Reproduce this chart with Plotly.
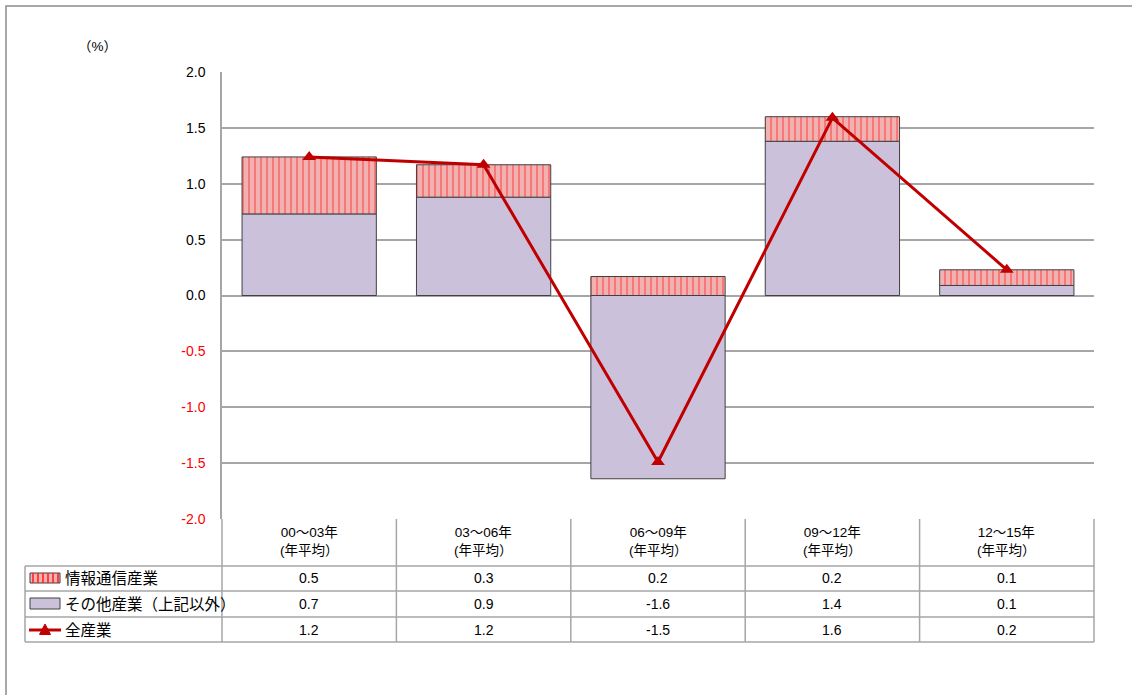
import plotly.graph_objects as go

# data
periods = ["00～03年", "03～06年", "06～09年", "09～12年", "12～15年"]
info_comm = [0.51, 0.29, 0.17, 0.22, 0.14]      # 情報通信産業
other_ind = [0.73, 0.88, -1.64, 1.38, 0.09]     # その他産業（上記以外）
all_ind = [1.24, 1.17, -1.49, 1.59, 0.23]       # 全産業
y_ticks = [-2.0, -1.5, -1.0, -0.5, 0.0, 0.5, 1.0, 1.5, 2.0]

row_names = ["情報通信産業", "その他産業（上記以外）", "全産業"]

FONT = "Liberation Sans, Noto Sans CJK JP"
GRID = "#a6a6a6"
W_FIG, H_FIG = 1132, 695
L, T, W, H = 222, 72, 872, 447


def px(x):
    return (x - L) / W


def py(y):
    return (T + H - y) / H


fig = go.Figure()

fig.add_trace(go.Bar(
    x=list(range(len(periods))), y=other_ind, name=row_names[1],
    marker=dict(color="#ccc1da", line=dict(color="#404040", width=1)),
    width=0.77,
))
fig.add_trace(go.Bar(
    x=list(range(len(periods))), y=info_comm, name=row_names[0],
    marker=dict(
        color="#f2b1b1",
        line=dict(color="#404040", width=1),
        pattern=dict(shape="|", fgcolor="#ff1a1a", bgcolor="#f2b1b1", size=6, solidity=0.25),
    ),
    width=0.77,
))
fig.add_trace(go.Scatter(
    x=list(range(len(periods))), y=all_ind, name=row_names[2],
    mode="lines+markers",
    line=dict(color="#c00000", width=3),
    marker=dict(symbol="triangle-up", size=12, color="#c00000"),
))

tick_text = []
for v in y_ticks:
    col = "#ff0000" if v < 0 else "#000000"
    tick_text.append(f"<span style='color:{col}'>{v:.1f}</span>")

shapes = []
line_style = dict(color=GRID, width=1.5)

# table grid
for yy in [566, 591, 617, 642]:
    shapes.append(dict(type="line", xref="paper", yref="paper",
                       x0=px(25), x1=px(1094), y0=py(yy), y1=py(yy), line=line_style))
shapes.append(dict(type="line", xref="paper", yref="paper",
                   x0=px(25), x1=px(25), y0=py(566), y1=py(642), line=line_style))
for i in range(len(periods) + 1):
    xx = L + i * W / len(periods)
    shapes.append(dict(type="line", xref="paper", yref="paper",
                       x0=px(xx), x1=px(xx), y0=py(519), y1=py(642), line=line_style))

# outer chart frame
shapes.append(dict(type="rect", xref="paper", yref="paper",
                   x0=px(6), x1=px(1140), y0=py(6), y1=py(705),
                   line=dict(color="#8c8c8c", width=1.5)))

# legend keys in the table
shapes.append(dict(type="rect", xref="paper", yref="paper",
                   x0=px(30), x1=px(60), y0=py(583), y1=py(573),
                   fillcolor="#f2b1b1", line=dict(color="#404040", width=1)))
for k in range(6):
    sx = 33 + k * 5
    shapes.append(dict(type="line", xref="paper", yref="paper",
                       x0=px(sx), x1=px(sx), y0=py(583), y1=py(573),
                       line=dict(color="#ff1a1a", width=1.5)))
shapes.append(dict(type="rect", xref="paper", yref="paper",
                   x0=px(30), x1=px(60), y0=py(609), y1=py(598),
                   fillcolor="#ccc1da", line=dict(color="#404040", width=1)))
shapes.append(dict(type="line", xref="paper", yref="paper",
                   x0=px(29), x1=px(61), y0=py(630), y1=py(630),
                   line=dict(color="#c00000", width=3)))
shapes.append(dict(type="path", xref="paper", yref="paper",
                   path=f"M {px(39.5)},{py(634.5)} L {px(50.5)},{py(634.5)} L {px(45)},{py(624)} Z",
                   fillcolor="#c00000", line=dict(color="#c00000", width=1)))

annotations = [dict(text="（%）", xref="paper", yref="paper", x=px(97), y=py(46),
                    xanchor="center", yanchor="middle",
                    showarrow=False, font=dict(size=13.5, color="#000"))]

for i, p in enumerate(periods):
    annotations.append(dict(text=f"{p}<br>(年平均）", xref="x", yref="paper",
                            x=i, y=py(541), xanchor="center", yanchor="middle",
                            showarrow=False, align="center",
                            font=dict(size=13.5, color="#000")))

row_y = [578, 604, 630]
row_vals = [info_comm, other_ind, all_ind]
for name, yy, vals in zip(row_names, row_y, row_vals):
    annotations.append(dict(text=name, xref="paper", yref="paper", x=px(63), y=py(yy),
                            xanchor="left", yanchor="middle", showarrow=False,
                            font=dict(size=15.5, color="#000")))
    for i, v in enumerate(vals):
        annotations.append(dict(text=f"{v:.1f}", xref="x", yref="paper", x=i, y=py(yy),
                                xanchor="center", yanchor="middle", showarrow=False,
                                font=dict(size=14, color="#000")))

fig.update_layout(
    width=W_FIG, height=H_FIG,
    margin=dict(l=L, r=W_FIG - L - W, t=T, b=H_FIG - T - H),
    paper_bgcolor="white", plot_bgcolor="white",
    barmode="relative", bargap=0.23,
    showlegend=False,
    font=dict(family=FONT, size=13, color="#000"),
    xaxis=dict(range=[-0.5, len(periods) - 0.5], showticklabels=False,
               showgrid=False, zeroline=False, fixedrange=True),
    yaxis=dict(range=[-2, 2], tickvals=y_ticks, ticktext=tick_text,
               showgrid=True, gridcolor=GRID, gridwidth=1.5, zeroline=False,
               showline=True, linecolor=GRID, linewidth=1.5,
               ticklabelstandoff=12, tickfont=dict(size=14)),
    shapes=shapes,
    annotations=annotations,
)

# the page's default body margin would shift the figure by 8px
fig.write_html("out.html", config={"displayModeBar": False},
               post_script="document.body.style.margin='0px';")
